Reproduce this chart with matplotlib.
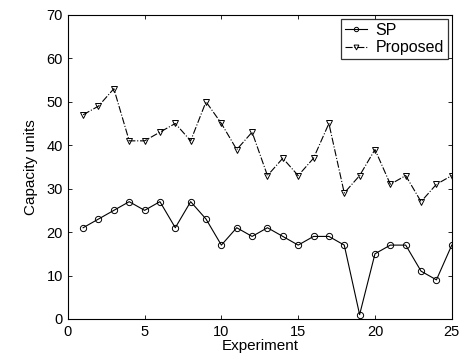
import numpy as np
import matplotlib
matplotlib.use("Agg")
import matplotlib.pyplot as plt

experiments = np.arange(1, 26)
sp = [21, 23, 25, 27, 25, 27, 21, 27, 23, 17, 21, 19, 21, 19, 17, 19, 19, 17, 1, 15, 17, 17, 11, 9, 17]
proposed = [47, 49, 53, 41, 41, 43, 45, 41, 50, 45, 39, 43, 33, 37, 33, 37, 45, 29, 33, 39, 31, 33, 27, 31, 33]

plt.rcParams['font.family'] = ['Liberation Sans', 'DejaVu Sans']
plt.rcParams['font.size'] = 10

fig = plt.figure(figsize=(4.61, 3.54), dpi=100)
ax = fig.add_axes([0.147, 0.099, 0.833, 0.859])

ax.plot(experiments, sp, '-', color='black', linewidth=0.8, marker='o',
        markersize=4.5, markerfacecolor='none', markeredgewidth=0.7, label='SP')
ax.plot(experiments, proposed, '-.', color='black', linewidth=0.8, marker='v',
        markersize=5, markerfacecolor='none', markeredgewidth=0.7, label='Proposed')

ax.set_xlim(0, 25)
ax.set_ylim(0, 70)
ax.set_xticks([0, 5, 10, 15, 20, 25])
ax.set_yticks(range(0, 71, 10))
ax.tick_params(direction='in', top=True, right=True, length=3, width=0.6, labelsize=10.5)
ax.tick_params(axis='x', pad=4)
for s in ax.spines.values():
    s.set_linewidth(0.8)

ax.set_xlabel('Experiment', fontsize=11, labelpad=0)
ax.set_ylabel('Capacity units', fontsize=11, labelpad=6)

# legend with small handles, like the original
leg = ax.legend(loc='upper right', fontsize=11.5, frameon=True, fancybox=False,
                borderaxespad=0.25, handlelength=1.4, handletextpad=0.5,
                borderpad=0.25, labelspacing=0.15, markerscale=0.7)
leg.get_frame().set_edgecolor('black')
leg.get_frame().set_linewidth(0.9)

fig.savefig('out.png', dpi=100)
